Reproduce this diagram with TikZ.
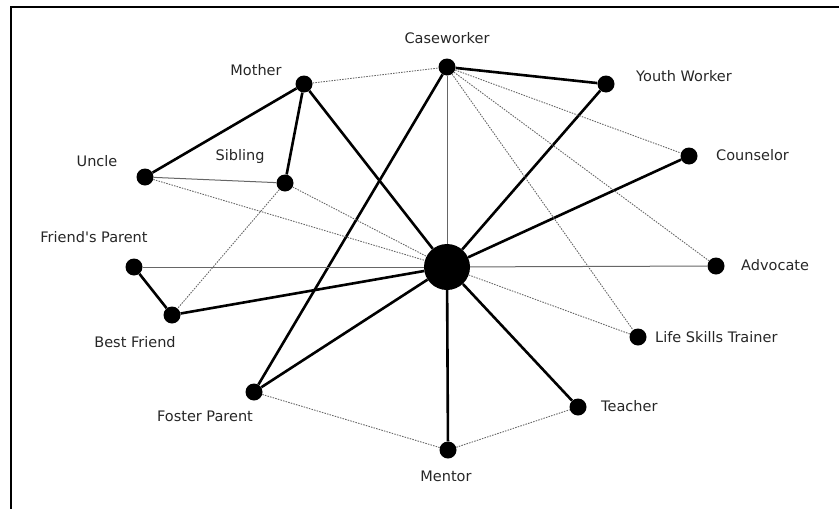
\documentclass[tikz,border=0pt]{standalone}
\usepackage{fontspec}
\setmainfont{DejaVu Sans}
\usetikzlibrary{positioning}

\begin{document}
\begin{tikzpicture}[
  x=1pt, y=-1pt,
  font=\fontsize{14.5}{17}\selectfont,
  actor/.style={circle, fill=black, inner sep=0pt, minimum size=17pt},
  hub/.style={actor, minimum size=46pt},
  lbl/.style={inner sep=0pt, text=black!85, text height=10.5pt, text depth=0pt},
  strong/.style={line width=2.6pt},
  weak/.style={line width=1pt, black!60},
  faint/.style={line width=0.9pt, black!60, dash pattern=on 1.5pt off 1.2pt}
]
\useasboundingbox (0,0) rectangle (839,509);
\draw[line width=2pt] (11,509) -- (11,6.5) -- (839,6.5);
% people
\node[hub]   (hub) at (447,267) {};
\node[actor] (cw)  at (447,67)  {};
\node[actor] (mom) at (304,84)  {};
\node[actor] (yw)  at (606,84)  {};
\node[actor] (cou) at (689,156) {};
\node[actor] (unc) at (145,177) {};
\node[actor] (sib) at (285,183) {};
\node[actor] (fp)  at (134,267) {};
\node[actor] (bf)  at (172,315) {};
\node[actor] (fos) at (254,392) {};
\node[actor] (men) at (448,450) {};
\node[actor] (tea) at (578,407) {};
\node[actor] (lst) at (638,337) {};
\node[actor] (adv) at (716,266) {};
% names
\node[lbl] (cw-t)  at (447,38)  {Caseworker};
\node[lbl] (mom-t) at (256,70)  {Mother};
\node[lbl, anchor=west] (yw-t)  at (636,76)  {Youth Worker};
\node[lbl, anchor=west] (cou-t) at (716,155) {Counselor};
\node[lbl] (unc-t) at (97,161)  {Uncle};
\node[lbl] (sib-t) at (240,155) {Sibling};
\node[lbl] (fp-t)  at (94,237)  {Friend\textquotesingle s Parent};
\node[lbl] (bf-t)  at (135,342) {Best Friend};
\node[lbl] (fos-t) at (205,416) {Foster Parent};
\node[lbl] (men-t) at (446,476) {Mentor};
\node[lbl, anchor=west] (tea-t) at (601,406) {Teacher};
\node[lbl, anchor=west] (lst-t) at (655,337) {Life Skills Trainer};
\node[lbl, anchor=west] (adv-t) at (741,265) {Advocate};
% strong ties
\draw[strong] (mom) -- (unc);
\draw[strong] (mom) -- (sib);
\draw[strong] (mom) -- (hub);
\draw[strong] (cw) -- (fos);
\draw[strong] (cw) -- (yw);
\draw[strong] (yw) -- (hub);
\draw[strong] (cou) -- (hub);
\draw[strong] (fp) -- (bf);
\draw[strong] (bf) -- (hub);
\draw[strong] (fos) -- (hub);
\draw[strong] (men) -- (hub);
\draw[strong] (tea) -- (hub);
% weak ties
\draw[weak] (cw) -- (hub);
\draw[weak] (unc) -- (sib);
\draw[weak] (fp) -- (hub);
\draw[weak] (hub) -- (adv);
% faint ties
\draw[faint] (mom) -- (cw);
\draw[faint] (cw) -- (cou);
\draw[faint] (cw) -- (adv);
\draw[faint] (cw) -- (lst);
\draw[faint] (unc) -- (hub);
\draw[faint] (sib) -- (hub);
\draw[faint] (sib) -- (bf);
\draw[faint] (hub) -- (lst);
\draw[faint] (fos) -- (men);
\draw[faint] (men) -- (tea);
\end{tikzpicture}
\end{document}
